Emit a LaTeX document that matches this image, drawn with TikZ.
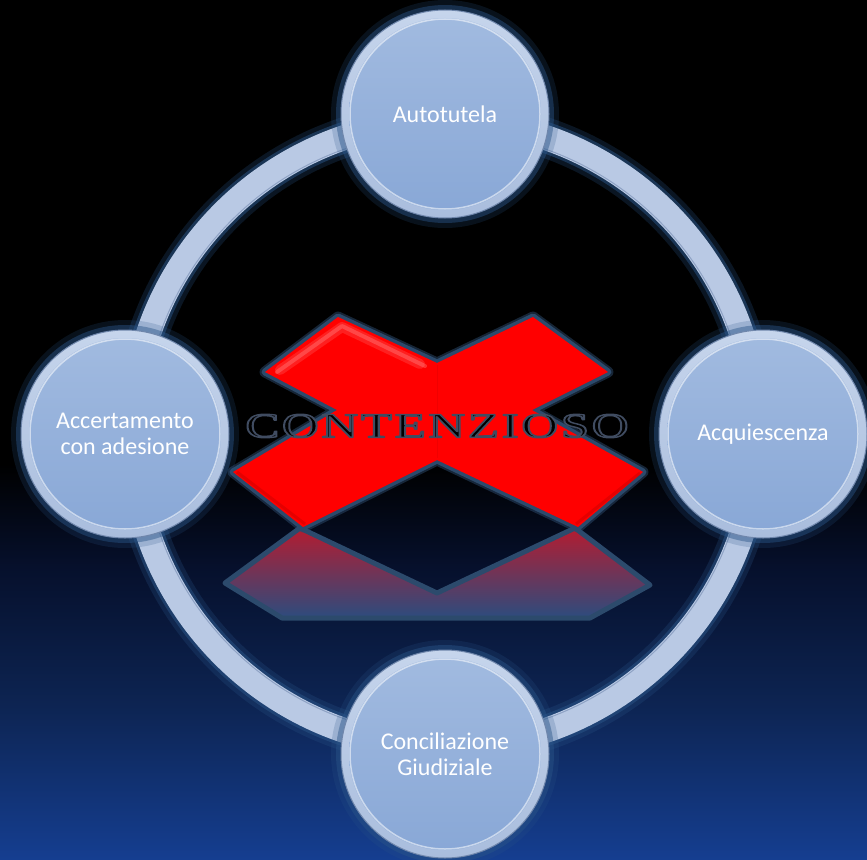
\documentclass[tikz,border=0pt]{standalone}
\usepackage{fontspec}
\usepackage{graphicx}
\newfontfamily\labfont{Carlito}
\newfontfamily\contfont[LetterSpace=5.5]{Liberation Serif}
\definecolor{bgblue}{HTML}{153E90}
\definecolor{bgmidA}{HTML}{0D2452}
\definecolor{bgmidB}{HTML}{06102C}
\definecolor{ringc}{HTML}{B9C9E4}
\definecolor{ringline}{HTML}{8EA2C4}
\definecolor{glowc}{HTML}{2A5588}
\definecolor{rimtop}{HTML}{C6D5EC}
\definecolor{rimbot}{HTML}{A9BDDD}
\definecolor{rimedge}{HTML}{6F86AB}
\definecolor{disktop}{HTML}{A2BBE0}
\definecolor{diskmid}{HTML}{7398CB}
\definecolor{diskbot}{HTML}{88A7D6}
\definecolor{xglow}{HTML}{2C4A6C}
\definecolor{reftop}{HTML}{B41C30}
\definecolor{refbot}{HTML}{2C4C7E}
\pgfdeclareverticalshading{bgshade}{100bp}{color(0bp)=(bgblue); color(25bp)=(bgblue); color(34bp)=(bgmidA); color(42bp)=(bgmidB); color(48bp)=(black); color(100bp)=(black)}
\newcommand{\halotext}[1]{\special{pdf:literal 2 Tr 1.4 w 1 j 0.25 0.30 0.38 RG}#1\special{pdf:literal 0 Tr}}
\tikzset{
  bubble/.style={circle, minimum size=208pt, inner sep=0pt,
    top color=rimtop, bottom color=rimbot, draw=rimedge, line width=1pt,
    preaction={draw=glowc, line width=20pt, opacity=.2},
    preaction={draw=glowc, line width=10pt, opacity=.45},
    path picture={
      \shade[top color=disktop, middle color=diskmid, bottom color=diskbot]
        (path picture bounding box.center) circle (96pt);
      \draw[white, opacity=.55, line width=1.5pt]
        (path picture bounding box.center) circle (95pt);},
    font=\labfont\fontsize{24}{25.5}\selectfont, text=white, align=center},
  conttext/.style={inner sep=0pt, font=\contfont\fontsize{35}{40}\selectfont}
}
\begin{document}
\begin{tikzpicture}[x=1pt,y=-1pt]
\useasboundingbox (0,0) rectangle (867,859);
\shade[shading=bgshade] (0,0) rectangle (867,859);
% ring
\coordinate (hub) at (445,434);
\draw[glowc, opacity=.25, line width=40pt] (hub) circle (313pt);
\draw[glowc, opacity=.5, line width=31pt] (hub) circle (313pt);
\draw[ringc, line width=25pt] (hub) circle (313pt);
\draw[ringline, line width=1pt] (hub) circle (302pt);
% reflection
\path[draw=xglow, line width=5pt, line join=round, top color=reftop, bottom color=refbot]
  (300,528) -- (225,583) -- (282,618) -- (590,618) -- (650,585) -- (575,528) -- (437,593) -- cycle;
% red X
\def\xshape{(265,372) -- (338,317) -- (437,363) -- (533,317) -- (608,372) -- (532,410) -- (643,472) -- (578,527) -- (437,460) -- (303,527) -- (233,472) -- (337,410) -- cycle}
\draw[xglow, opacity=.5, line width=11pt, line join=round] \xshape;
\draw[xglow, line width=7pt, line join=round] \xshape;
\fill[red] \xshape;
\draw[white, opacity=.12, line width=10pt, line cap=round, line join=round] (280,370) -- (342,327) -- (420,364);
\draw[white, opacity=.18, line width=4pt, line cap=round, line join=round] (277,372) -- (342,326) -- (425,366);
\draw[red!80!black, opacity=.5, line width=3pt] (305,524) -- (237,472);
\draw[red!80!black, opacity=.5, line width=3pt] (576,524) -- (640,473);
\draw[red!85!black, opacity=.35, line width=1pt] (437,365) -- (437,458);
% text
\node[conttext, text=black] (cont) at (437,426) {\scalebox{1.45}[1]{\halotext{CONTENZIOSO}}};
% bubbles
\node[bubble] (auto) at (445,114) {Autotutela};
\node[bubble] (acq) at (763,434) {Acquiescenza};
\node[bubble] (conc) at (445,754) {Conciliazione\\Giudiziale};
\node[bubble] (acc) at (125,434) {Accertamento\\con adesione};
\end{tikzpicture}
\end{document}
